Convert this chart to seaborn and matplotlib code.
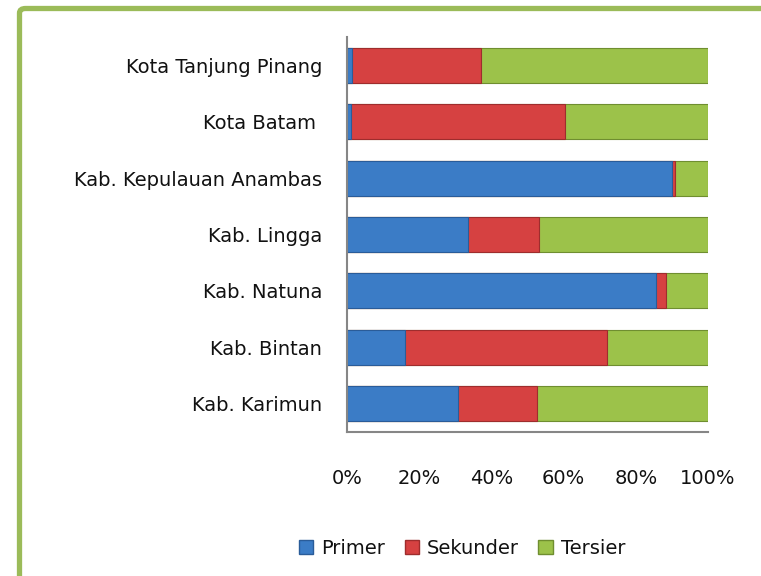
import matplotlib
matplotlib.use("Agg")
import matplotlib.pyplot as plt
import seaborn as sns
import pandas as pd
from matplotlib.patches import FancyBboxPatch, Patch

# Data (share of sectors per region, in %)
regions = ["Kota Tanjung Pinang", "Kota Batam ", "Kab. Kepulauan Anambas",
           "Kab. Lingga", "Kab. Natuna", "Kab. Bintan", "Kab. Karimun"]
primer = [1.5, 1.0, 90.1, 33.4, 85.6, 16.0, 30.8]
sekunder = [35.6, 59.3, 0.8, 19.7, 2.9, 56.0, 21.8]
tersier = [62.9, 39.7, 9.1, 46.9, 11.5, 28.0, 47.4]

series = ["Primer", "Sekunder", "Tersier"]
colors = ["#3b7cc6", "#d64141", "#9cc24a"]
edges = ["#2a5c99", "#9e2d2d", "#6f8e30"]

sns.set_style("white")
plt.rcParams["font.family"] = ["DejaVu Sans"]

df = pd.DataFrame({"Wilayah": regions, "Primer": primer,
                   "Sekunder": sekunder, "Tersier": tersier})
df["c1"] = df["Primer"] / 100
df["c2"] = (df["Primer"] + df["Sekunder"]) / 100
df["c3"] = (df["Primer"] + df["Sekunder"] + df["Tersier"]) / 100

fig = plt.figure(figsize=(7.61, 5.76), dpi=100)
ax = fig.add_axes([347 / 761, 1 - 432 / 576, 361 / 761, 395 / 576])

# stacked bars: draw cumulative totals from the largest down
for col, c, e in zip(["c3", "c2", "c1"], colors[::-1], edges[::-1]):
    sns.barplot(data=df, x=col, y="Wilayah", color=c, width=0.62,
                edgecolor=e, linewidth=0.8, ax=ax, saturation=1)

ax.set_xlim(0, 1)
ax.set_xticks([0, 0.2, 0.4, 0.6, 0.8, 1.0])
ax.set_xticklabels(["0%", "20%", "40%", "60%", "80%", "100%"])
ax.set_xlabel("")
ax.set_ylabel("")
ax.tick_params(axis="x", length=0, pad=27, labelsize=14, colors="#111111")
ax.tick_params(axis="y", length=0, pad=18, labelsize=14, colors="#111111")
for s in ["top", "right"]:
    ax.spines[s].set_visible(False)
for s in ["left", "bottom"]:
    ax.spines[s].set_color("#868686")
    ax.spines[s].set_linewidth(1.5)

handles = [Patch(facecolor=c, edgecolor=e, label=l)
           for c, e, l in zip(colors, edges, series)]
leg = fig.legend(handles=handles, loc="center", bbox_to_anchor=(462 / 761, 1 - 548 / 576),
                 ncol=3, frameon=False, fontsize=14, handlelength=0.75, handleheight=0.75,
                 handletextpad=0.4, columnspacing=1.0)
for t in leg.get_texts():
    t.set_color("#111111")

# green chart-area border, running off the right and bottom edges
border = FancyBboxPatch((19.5 / 761, -0.1), 1.2, 1 - 8.5 / 576 + 0.1,
                        boxstyle="round,pad=0,rounding_size=0.008",
                        transform=fig.transFigure, fill=False,
                        edgecolor="#9bbb59", linewidth=3.8, zorder=10)
fig.patches.append(border)

fig.savefig("out.png", dpi=100)
